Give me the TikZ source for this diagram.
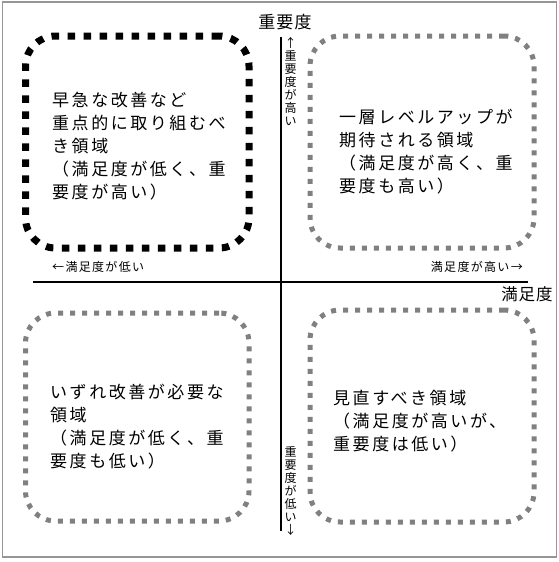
\documentclass[tikz,border=0pt]{standalone}
\usepackage{fontspec}
\setmainfont{Noto Sans CJK JP}
\newfontfamily\jpbig[LetterSpace=15]{Noto Sans CJK JP}
\newfontfamily\jpmid[LetterSpace=6]{Noto Sans CJK JP}
\newfontfamily\jpsmall[LetterSpace=11]{Noto Sans CJK JP}
\definecolor{framegray}{RGB}{150,150,150}
\definecolor{dotgray}{RGB}{128,128,128}
\tikzset{
  frame/.style={draw=framegray, line width=1.5pt},
  axis/.style={draw=black, line width=2pt},
  blkbox/.style={draw=black, line width=7pt, rounded corners=30pt, dash pattern=on 7.5pt off 8.5pt, inner sep=0pt},
  grybox/.style={draw=dotgray, line width=5pt, rounded corners=30pt, dash pattern=on 5pt off 7pt, inner sep=0pt},
  body/.style={font=\jpbig\fontsize{17}{23}\selectfont, align=left, inner sep=0pt, anchor=west, text=black},
  axlabel/.style={font=\jpmid\fontsize{17}{20}\selectfont, inner sep=0pt, text=black},
  small/.style={font=\jpsmall\fontsize{12}{13}\selectfont, inner sep=0pt, text=black},
  vsmall/.style={font=\fontsize{12}{13}\selectfont, inner sep=0pt, align=center, text=black},
}
\begin{document}
\begin{tikzpicture}[x=1pt, y=-1pt]
\useasboundingbox (0,0) rectangle (559,562);
\draw[frame] (2.5,2) rectangle (556.5,557);
% axes
\coordinate (hl) at (33,281.5);
\coordinate (hr) at (528,281.5);
\coordinate (vt) at (280.5,37);
\coordinate (vb) at (280.5,531);
\draw[axis] (hl) -- (hr);
\draw[axis] (vt) -- (vb);
% axis labels
\node[axlabel] (ytitle) at (285,22) {重要度};
\node[axlabel, font=\jpmid\fontsize{16.5}{20}\selectfont] (xtitle) at (527,294) {満足度};
\node[small, anchor=west] (xlow) at (52,267) {←満足度が低い};
\node[small, anchor=east] (xhigh) at (523,267) {満足度が高い→};
\node[vsmall, anchor=north] (yhigh) at (290.5,37) {↑\\重\\要\\度\\が\\高\\い};
\node[vsmall, anchor=north] (ylow) at (290.5,446) {重\\要\\度\\が\\低\\い\\↓};
% boxes
\node[blkbox, minimum width=223.5pt, minimum height=212pt] (tlbox) at (137.25,142) {};
\node[grybox, minimum width=224pt, minimum height=212pt] (trbox) at (422,142) {};
\node[grybox, minimum width=223.5pt, minimum height=208pt] (blbox) at (137.25,417) {};
\node[grybox, minimum width=224pt, minimum height=212pt] (brbox) at (422,416) {};
% texts
\node[body] (tltext) at (52,146) {早急な改善など\\重点的に取り組むべ\\き領域\\（満足度が低く、重\\要度が高い）};
\node[body] (trtext) at (339,152) {一層レベルアップが\\期待される領域\\（満足度が高く、重\\要度も高い）};
\node[body] (bltext) at (50,427) {いずれ改善が必要な\\領域\\（満足度が低く、重\\要度も低い）};
\node[body] (brtext) at (333,421) {見直すべき領域\\（満足度が高いが、\\重要度は低い）};
\end{tikzpicture}
\end{document}
